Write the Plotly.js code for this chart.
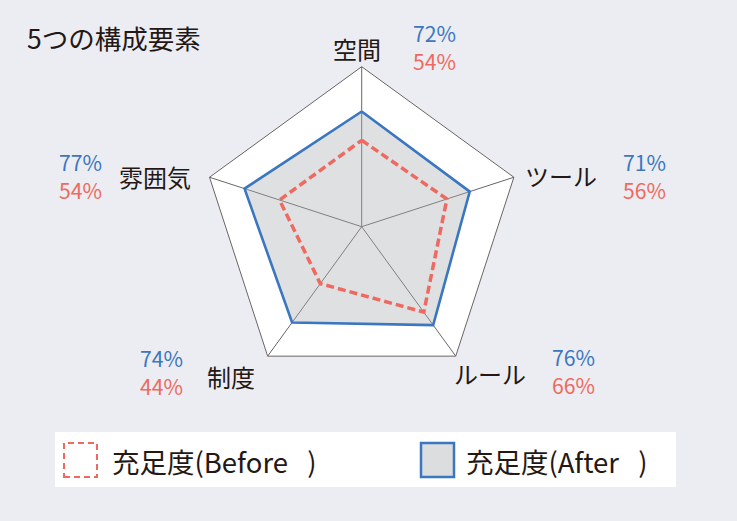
<!DOCTYPE html>
<html><head><meta charset="utf-8">
<script src="https://cdn.plot.ly/plotly-3.0.1.min.js"></script>
<style>html,body{margin:0;padding:0;background:#ecedf2;}</style>
</head><body>
<div id="chart" style="width:737px;height:521px"></div>
<script>
const titleText = '5つの構成要素';
const categories = ['空間', 'ツール', 'ルール', '制度', '雰囲気'];
const beforeValues = [54, 56, 66, 44, 54];
const afterValues = [72, 71, 76, 74, 77];
const seriesNames = ['充足度(Before\u2002\u2009)', '充足度(After\u2002\u2009)'];

const W = 737, H = 521;
const px = x => x / W;
const py = y => 1 - y / H;
const FONT = '"Noto Sans CJK JP", "Noto Sans", sans-serif';
const BLUE = '#3b77c1';
const RED = '#ee6a60';
const INK = '#231815';
const GRID = '#6b6565';

const close = a => a.concat([a[0]]);

const traces = [
  {
    type: 'scatterpolar', name: seriesNames[1],
    theta: close(categories), r: close(afterValues),
    mode: 'lines', fill: 'toself',
    fillcolor: 'rgba(168,170,175,0.37)',
    line: {color: BLUE, width: 2.6},
    showlegend: false, hoverinfo: 'skip'
  },
  {
    type: 'scatterpolar', name: seriesNames[0],
    theta: close(categories), r: close(beforeValues),
    mode: 'lines', fill: 'none',
    line: {color: RED, width: 3.5, dash: '8px,4px'},
    showlegend: false, hoverinfo: 'skip'
  }
];

// label positions (layout), centers in pixels
const labelPos = [[357, 48], [561, 175], [490, 373], [231, 376], [155, 176]];
const pctPos = [[434, 46], [644, 175], [573, 370], [161, 371], [80, 175]];

const annotations = [];
categories.forEach((c, i) => {
  annotations.push({text: c, x: px(labelPos[i][0]), y: py(labelPos[i][1]), xref: 'paper', yref: 'paper',
    xanchor: 'center', yanchor: 'middle', showarrow: false, font: {family: FONT, size: 24, color: INK}});
  annotations.push({
    text: '<span style="color:' + BLUE + '">' + afterValues[i] + '%</span><br><span style="color:' + RED + '">' + beforeValues[i] + '%</span>',
    x: px(pctPos[i][0]), y: py(pctPos[i][1]), xref: 'paper', yref: 'paper',
    xanchor: 'center', yanchor: 'middle', showarrow: false, font: {family: FONT, size: 21.2, color: BLUE}});
});
// legend texts
annotations.push({text: seriesNames[0], x: px(110), y: py(461), xref: 'paper', yref: 'paper',
  xanchor: 'left', yanchor: 'middle', showarrow: false, font: {family: FONT, size: 27.5, color: INK}});
annotations.push({text: seriesNames[1], x: px(464), y: py(461), xref: 'paper', yref: 'paper',
  xanchor: 'left', yanchor: 'middle', showarrow: false, font: {family: FONT, size: 27.5, color: INK}});

const shapes = [
  {type: 'rect', xref: 'paper', yref: 'paper', x0: px(55), x1: px(676), y0: py(487), y1: py(432),
    fillcolor: '#ffffff', line: {width: 0}, layer: 'below'},
  {type: 'rect', xref: 'paper', yref: 'paper', x0: px(64), x1: px(97), y0: py(477), y1: py(443),
    fillcolor: 'rgba(0,0,0,0)', line: {color: RED, width: 2, dash: '6px,4px'}},
  {type: 'rect', xref: 'paper', yref: 'paper', x0: px(421), x1: px(454), y0: py(477), y1: py(443),
    fillcolor: '#dcdddf', line: {color: BLUE, width: 2.5}}
];

const cx = 361.7, cy = 226.7, R = 160;
const layout = {
  width: W, height: H,
  margin: {l: 0, r: 0, t: 0, b: 0},
  paper_bgcolor: '#ecedf2',
  plot_bgcolor: '#ecedf2',
  showlegend: false,
  title: {text: titleText, x: px(27), xanchor: 'left', xref: 'paper', y: py(40), yanchor: 'middle', yref: 'paper',
    font: {family: FONT, size: 26.5, color: INK}},
  polar: {
    domain: {x: [px(cx - R), px(cx + R)], y: [py(cy + R), py(cy - R)]},
    bgcolor: '#ffffff',
    gridshape: 'linear',
    radialaxis: {range: [0, 100], visible: false, showgrid: false, showline: false, ticks: ''},
    angularaxis: {type: 'category', rotation: 90, direction: 'clockwise',
      showticklabels: false, ticks: '', showline: true, linecolor: GRID, linewidth: 1,
      showgrid: true, gridcolor: GRID, gridwidth: 1}
  },
  annotations: annotations,
  shapes: shapes,
  font: {family: FONT}
};

Plotly.newPlot('chart', traces, layout, {displayModeBar: false, staticPlot: true});
</script>
</body></html>
